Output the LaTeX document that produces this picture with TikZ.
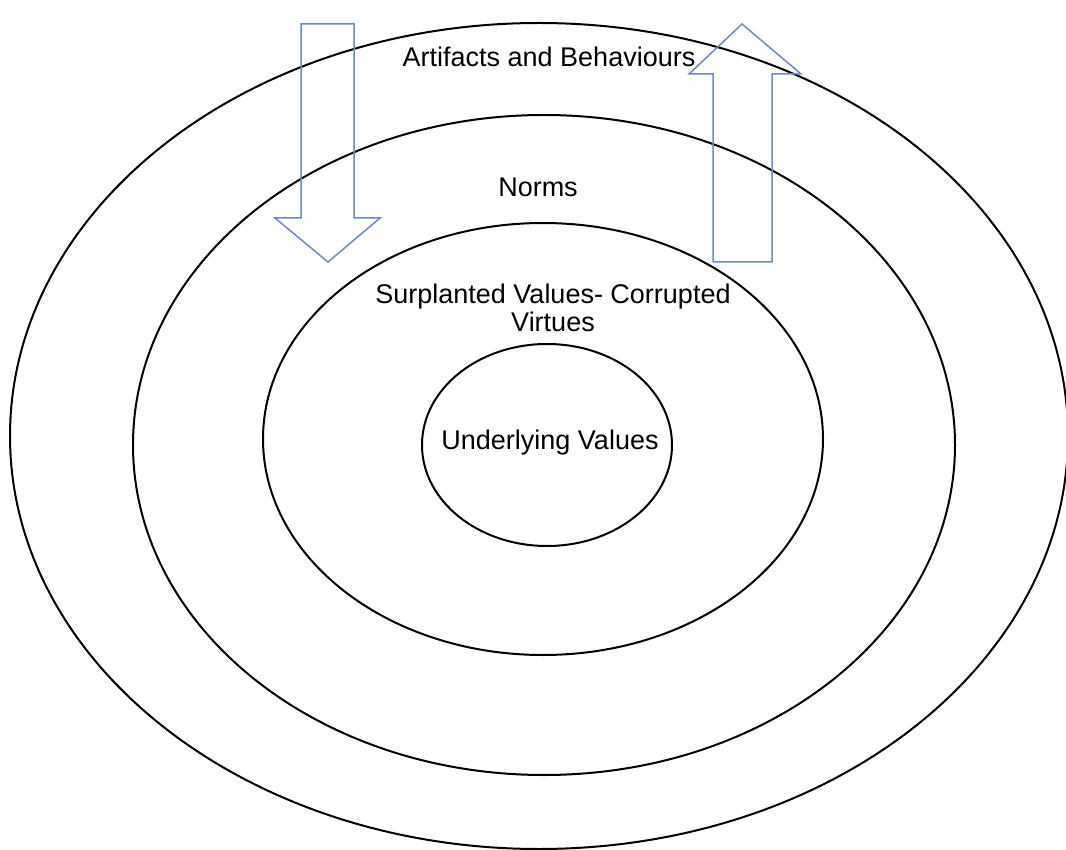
\documentclass[tikz,border=0pt]{standalone}
\usepackage{fontspec}
\setmainfont{Liberation Sans}
\begin{document}
\begin{tikzpicture}[x=0.5pt,y=-0.5pt,
  ring/.style={draw=black,line width=1pt},
  blockarrow/.style={draw={rgb,255:red,105;green,140;blue,200},line width=0.75pt,line join=miter},
  lbl/.style={font=\fontsize{13.5}{14}\selectfont,inner sep=0pt,align=center}]
\useasboundingbox (0,0) rectangle (1066,850);
\clip (0,0) rectangle (1066,850);
% rings
\draw[ring] (539,436) ellipse [x radius=529, y radius=413];
\draw[ring] (544,445) ellipse [x radius=411, y radius=330];
\draw[ring] (543,439) ellipse [x radius=280, y radius=216];
\draw[ring] (547,445) ellipse [x radius=125, y radius=101];
% arrows
\draw[blockarrow] (301,24) -- (354,24) -- (354,218) -- (380,218) -- (328,262) -- (275,218) -- (301,218) -- cycle;
\draw[blockarrow] (713,262) -- (772,262) -- (772,74) -- (801,74) -- (742,24) -- (689,74) -- (713,74) -- cycle;
% labels
\node[lbl] (artifacts) at (549,57) {Artifacts and Behaviours};
\node[lbl] (norms) at (538,187) {Norms};
\node[lbl] (surplanted) at (553,308) {Surplanted Values- Corrupted\\[0pt]Virtues};
\node[lbl] (underlying) at (550,443) {Underlying Values};
\end{tikzpicture}
\end{document}
